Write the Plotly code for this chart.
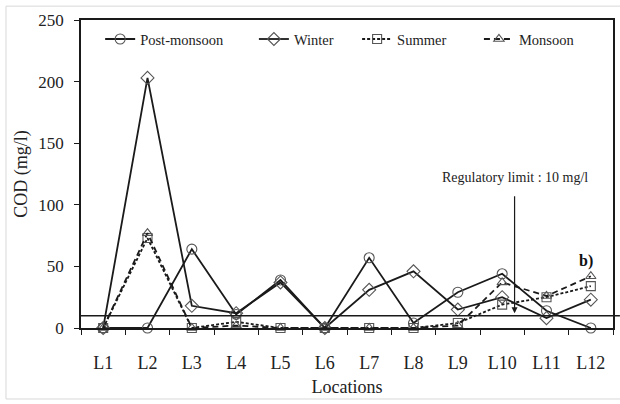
import plotly.graph_objects as go

locations = ["L1", "L2", "L3", "L4", "L5", "L6", "L7", "L8", "L9", "L10", "L11", "L12"]
post_monsoon = [0, 0, 64, 11, 39, 0, 57, 4, 29, 44, 14, 0]
winter = [0, 203, 18, 12, 37, 0, 31, 46, 15, 25, 8, 23]
summer = [0, 73, 0, 5, 0, 0, 0, 0, 4, 19, 25, 34]
monsoon = [0, 77, 0, 2, 0, 0, 0, 0, 2, 37, 26, 42]
y_ticks = [0, 50, 100, 150, 200, 250]
limit_value = 10

FONT = "Liberation Serif, Times New Roman, serif"
LINE = "#1a1a1a"
MK = "#555555"

fig = go.Figure()
series = [
    ("Post-monsoon", post_monsoon, "circle-open", "solid", 10, "legend", 0.036),
    ("Winter", winter, "diamond-open", "solid", 10, "legend2", 0.325),
    ("Summer", summer, "square-open", "3px,2px", 9, "legend3", 0.519),
    ("Monsoon", monsoon, "triangle-up-open", "6px,4px", 9, "legend4", 0.748),
]
legend_layout = {}
for name, vals, sym, dash, sz, lg, lx in series:
    fig.add_trace(go.Scatter(
        x=locations, y=vals, name=name, mode="lines+markers",
        line=dict(color=LINE, width=1.8, dash=dash),
        marker=dict(symbol=sym, size=sz, color=MK, line=dict(color=MK, width=1.1)),
        cliponaxis=False, legend=lg,
    ))
    legend_layout[lg] = dict(x=lx, y=0.99, xanchor="left", yanchor="top",
                             orientation="h",
                             font=dict(family=FONT, size=14.5, color="#222"),
                             bgcolor="rgba(0,0,0,0)")

fig.add_shape(type="line", xref="paper", yref="y", x0=0, x1=1.013,
              y0=limit_value, y1=limit_value, line=dict(color=LINE, width=1.5))
fig.add_shape(type="rect", xref="paper", yref="paper", x0=-0.141, x1=1.05,
              y0=-0.2305, y1=1.045, line=dict(color="#d8d8d8", width=1), layer="below")

fig.add_annotation(xref="paper", yref="y", x=0.815, y=12,
                   text="Regulatory limit : 10 mg/l", showarrow=True,
                   ax=0, ay=-136, arrowhead=2, arrowsize=1, arrowwidth=1.2,
                   arrowcolor=LINE, borderpad=11,
                   font=dict(family=FONT, size=14, color="#222"))
fig.add_annotation(xref="paper", yref="y", x=0.966, y=54, text="<b>b)</b>",
                   showarrow=False, font=dict(family=FONT, size=16, color="#111"))

fig.update_layout(
    width=620, height=404,
    margin=dict(l=81, r=7, t=20, b=76),
    paper_bgcolor="white", plot_bgcolor="white",
    font=dict(family=FONT, size=16, color="#222"),
    showlegend=True,
    xaxis=dict(type="category", tickson="boundaries", ticks="outside", ticklen=5,
               tickcolor=LINE, showline=True, linecolor=LINE, linewidth=1.5,
               mirror=True, showgrid=False, zeroline=False, automargin=False,
               ticklabelstandoff=18, tickfont=dict(family=FONT, size=18),
               title=dict(text="Locations", font=dict(family=FONT, size=18), standoff=8),
               range=[-0.5, 11.5]),
    yaxis=dict(range=[0, 250], tickvals=y_ticks, ticks="outside", ticklen=5,
               tickcolor=LINE, showline=True, linecolor=LINE, linewidth=1.5,
               mirror=True, showgrid=False, zeroline=False, automargin=False,
               ticklabelstandoff=7, tickfont=dict(family=FONT, size=17),
               title=dict(text="COD (mg/l)", font=dict(family=FONT, size=18), standoff=6)),
    **legend_layout,
)

fig.write_html("out.html", config={"displayModeBar": False},
               post_script="document.body.style.margin='0';")
